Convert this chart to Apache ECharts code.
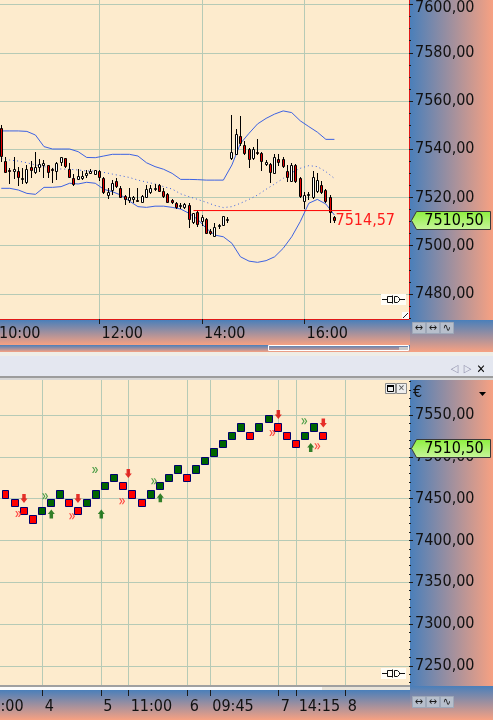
<!DOCTYPE html>
<html>
<head>
<meta charset="utf-8">
<title>Kerzen und Renko</title>
<script src="https://cdn.jsdelivr.net/npm/echarts@6.0.0/dist/echarts.min.js"></script>
<style>
  html, body { margin: 0; padding: 0; background: #fdebcd; }
  #chart { width: 493px; height: 720px; }
</style>
</head>
<body>
<div id="chart"></div>
<script>
// ---- oberes Fenster: 5-Minuten-Kerzen ----
var candleTime = ['10:05','10:10','10:15','10:20','10:25','10:30','10:35','10:40','10:45','10:50','10:55',
  '11:00','11:05','11:10','11:15','11:20','11:25','11:30','11:35','11:40','11:45','11:50','11:55',
  '12:00','12:05','12:10','12:15','12:20','12:25','12:30','12:35','12:40','12:45','12:50','12:55',
  '13:00','13:05','13:10','13:15','13:20','13:25','13:30','13:35','13:40','13:45','13:50','13:55',
  '14:00','14:05','14:10','14:15','14:20','14:25','14:30','14:35','14:40','14:45','14:50','14:55',
  '15:00','15:05','15:10','15:15','15:20','15:25','15:30','15:35','15:40','15:45','15:50','15:55',
  '16:00','16:05','16:10','16:15','16:20','16:25','16:30','16:35'];
var candleOpen = [7549.0,7535.3,7531.3,7531.1,7531.0,7527.9,7526.5,7532.8,7530.7,7532.8,
  7533.5,7533.3,7531.7,7531.1,7534.6,7536.2,7531.8,7527.9,7527.8,7528.2,
  7529.3,7530.3,7529.9,7531.1,7527.9,7521.1,7523.1,7526.8,7523.8,7520.7,
  7518.9,7519.5,7519.0,7518.2,7520.3,7522.1,7523.4,7525.2,7522.8,7521.3,
  7518.9,7517.8,7516.3,7515.9,7516.9,7510.0,7514.1,7510.4,7510.9,7506.2,
  7504.0,7508.2,7508.6,7510.9,7536.2,7538.0,7545.6,7541.7,7539.9,7536.2,
  7538.7,7538.6,7533.9,7533.7,7530.0,7535.8,7535.8,7531.1,7527.0,7533.5,
  7527.9,7518.5,7520.9,7520.0,7522.8,7525.2,7523.1,7520.3,7511.8];
var candleHigh = [7550.0,7536.6,7532.1,7536.6,7532.8,7532.1,7533.5,7535.1,7538.7,7535.8,
  7535.5,7533.5,7532.1,7534.8,7536.9,7536.5,7534.1,7529.7,7531.8,7531.1,
  7531.4,7531.7,7531.6,7531.4,7528.6,7523.8,7527.2,7527.9,7524.7,7521.0,
  7523.8,7520.6,7523.8,7521.0,7525.2,7525.2,7525.4,7525.4,7523.8,7521.7,
  7519.2,7518.2,7517.8,7517.6,7517.6,7513.7,7514.8,7512.7,7511.3,7506.8,
  7509.5,7509.0,7512.3,7512.0,7554.3,7548.2,7553.8,7543.5,7540.4,7540.8,
  7544.1,7539.0,7535.5,7534.4,7538.0,7538.0,7536.9,7533.5,7534.1,7533.9,
  7528.6,7522.4,7522.4,7531.0,7530.0,7526.8,7523.4,7521.0,7512.5];
var candleLow = [7535.0,7530.4,7525.9,7527.9,7525.2,7526.1,7526.1,7528.6,7530.3,7531.1,
  7528.3,7528.6,7526.5,7527.6,7533.5,7532.8,7528.6,7525.2,7527.6,7527.8,
  7528.6,7530.0,7529.6,7527.2,7522.0,7519.9,7521.3,7524.5,7520.0,7517.1,
  7518.2,7518.0,7518.5,7518.2,7520.3,7521.7,7523.1,7522.8,7520.0,7518.0,
  7517.6,7515.5,7515.5,7515.5,7507.9,7509.3,7508.2,7508.6,7505.1,7504.8,
  7504.0,7507.2,7508.6,7510.0,7535.8,7538.0,7541.7,7538.0,7532.8,7535.8,
  7538.0,7531.4,7533.5,7526.5,7530.0,7533.5,7532.8,7527.0,7527.0,7526.5,
  7520.3,7515.5,7519.2,7519.9,7522.4,7522.0,7518.2,7510.0,7510.0];
var candleClose = [7537.0,7530.7,7531.0,7531.7,7528.6,7528.2,7531.7,7531.4,7532.8,7533.7,
  7534.4,7530.7,7531.4,7534.4,7536.6,7533.0,7528.6,7525.6,7528.9,7528.9,
  7530.3,7531.1,7531.4,7528.3,7522.4,7522.1,7525.9,7524.9,7520.3,7519.2,
  7520.0,7520.0,7518.9,7520.7,7523.4,7524.1,7524.1,7522.8,7520.6,7518.0,
  7518.0,7515.9,7517.0,7517.3,7510.9,7513.4,7509.0,7512.0,7505.4,7505.1,
  7507.9,7508.6,7512.3,7511.2,7538.7,7546.2,7542.4,7538.6,7535.8,7539.9,
  7538.3,7535.1,7534.8,7530.7,7536.6,7534.8,7533.0,7528.3,7533.5,7526.8,
  7520.6,7521.0,7521.4,7528.3,7527.2,7522.4,7518.7,7514.1,7510.5];

var bandTime = ['10:05','10:15','10:25','10:35','10:45','10:55','11:05','11:15','11:25','11:35',
  '11:45','11:55','12:05','12:15','12:25','12:35','12:45','12:55','13:05','13:15',
  '13:25','13:35','13:45','13:55','14:05','14:15','14:25','14:35','14:45','14:55',
  '15:05','15:15','15:25','15:35','15:45','15:55','16:05','16:15','16:25','16:35'];
var bandUpper = [7547.6,7547.6,7547.6,7547.4,7545.9,7541.1,7540.1,7540.1,7540.1,7539.0,
  7536.6,7536.5,7537.2,7537.9,7537.9,7537.9,7537.2,7534.4,7532.8,7531.7,
  7530.0,7527.5,7527.5,7527.4,7527.2,7527.2,7527.2,7533.5,7542.4,7546.6,
  7550.5,7552.8,7554.6,7555.9,7555.2,7551.8,7549.4,7547.1,7544.1,7544.1];
var bandMiddle = [7536.2,7535.5,7535.1,7534.4,7533.5,7532.8,7532.1,7531.8,7531.7,7531.4,
  7531.0,7531.0,7530.4,7529.7,7529.0,7528.3,7527.2,7526.4,7525.6,7524.5,
  7523.5,7521.5,7520.3,7519.2,7518.0,7516.7,7515.8,7516.2,7517.6,7519.2,
  7521.0,7523.4,7525.6,7527.9,7530.3,7532.1,7533.2,7532.8,7530.7,7527.9];
var bandLower = [7523.8,7523.8,7523.1,7521.7,7521.3,7524.2,7524.2,7524.5,7525.9,7525.6,
  7526.3,7525.9,7523.4,7522.4,7521.0,7518.5,7516.2,7515.9,7516.4,7516.4,
  7515.9,7515.2,7513.4,7510.9,7507.2,7504.4,7503.7,7501.0,7495.4,7493.6,
  7493.1,7493.8,7495.4,7498.9,7503.7,7510.0,7517.6,7519.2,7517.3,7512.7];

var levelPrice = 7514.57;
var levelFrom = '13:50';
var levelTo = '16:55';
var lastPrice = 7510.50;

var topTimeTicks = ['10:00', '12:00', '14:00', '16:00'];
var topPriceTicks = [7480, 7500, 7520, 7540, 7560, 7580, 7600];

// ---- unteres Fenster: Renko (Boxgroesse 10) ----
var renkoBox = 10;
var renkoLow = [7460,7450,7440,7430,7420,7430,7440,7450,7440,7430,7440,7450,7460,7470,7460,7450,7440,
  7450,7460,7470,7480,7470,7480,7490,7500,7510,7520,7530,7520,7530,7540,7530,7520,7510,7520,7530,7520];
var renkoUp = [0,0,0,0,0,1,1,1,0,0,1,1,1,1,0,0,0,1,1,1,1,0,1,1,1,1,1,1,0,1,1,0,0,0,1,1,0];
var renkoTickPos = [-1.8, 5.1, 11.56, 14.58, 21.09, 23.58, 31.12, 33.1, 38.51];
var renkoTickText = ['10:00', '4', '5', '11:00', '6', '09:45', '7', '14:15', '8'];
var bottomPriceTicks = [7250, 7300, 7350, 7400, 7450, 7500, 7550];

var sellArrows = [[3.04, 7450.2], [8.99, 7450.2], [14.54, 7480.1], [31.08, 7550.6], [36.04, 7540.4]];
var buyArrows = [[6.05, 7431.7], [11.56, 7431.7], [18.07, 7451.2], [34.65, 7511.2]];
var buyMarks = [[5.36, 7452.8], [10.87, 7484.3], [17.37, 7470.8], [33.94, 7542.5]];
var sellMarks = [[2.41, 7431.7], [8.33, 7428.9], [13.85, 7446.9], [30.42, 7528.5], [35.38, 7512.6]];

var font = '"DejaVu Sans Condensed", "DejaVu Sans", sans-serif';
var gridColor = '#b6cab6';
var bandColor = '#3d62e2';
var blue = '#4a7fba', salmon = '#f7a182';

function toMin(t) { var p = t.split(':'); return (+p[0] - 10) * 60 + (+p[1]); }
function fmtPrice(v) { return v.toFixed(2).replace('.', ','); }
function fmtTime(m) {
  var h = 10 + Math.floor(m / 60), mm = Math.round(m % 60);
  return (h < 10 ? '0' : '') + h + ':' + (mm < 10 ? '0' : '') + mm;
}
// oberste Beschriftung rutscht etwas nach unten, damit sie nicht abgeschnitten wird
function fmtTopPrice(v) {
  return v === topPriceTicks[topPriceTicks.length - 1] ? '{edge|' + fmtPrice(v) + '}' : fmtPrice(v);
}
function renkoLabel(v) {
  for (var i = 0; i < renkoTickPos.length; i++) {
    if (Math.abs(renkoTickPos[i] - v) < 1e-6) return renkoTickText[i];
  }
  return '';
}
function grad(horizontal) {
  return { type: 'linear', x: 0, y: 0, x2: horizontal ? 1 : 0, y2: horizontal ? 0 : 1,
    colorStops: [{ offset: 0, color: blue }, { offset: 1, color: salmon }] };
}

function renderCandle(params, api) {
  var x = api.value(0), o = api.value(1), c = api.value(2), l = api.value(3), h = api.value(4);
  var pO = api.coord([x, o]), pC = api.coord([x, c]), pL = api.coord([x, l]), pH = api.coord([x, h]);
  var w = Math.floor(pO[0]) + 0.5;
  var top = Math.round(Math.min(pO[1], pC[1])) + 0.5;
  var bot = Math.round(Math.max(pO[1], pC[1])) + 0.5;
  if (bot - top < 1) bot = top + 1;
  return { type: 'group', children: [
    { type: 'line', shape: { x1: w, y1: Math.round(pH[1]), x2: w, y2: Math.round(pL[1]) + 1 },
      style: { stroke: '#000', lineWidth: 1 } },
    { type: 'rect', shape: { x: w - 1, y: top, width: 2, height: bot - top },
      style: { fill: c >= o ? '#ffffff' : '#e40000', stroke: '#000', lineWidth: 1 } }
  ] };
}

function renderTag(params, api) {
  var cs = params.coordSys;
  var y = Math.round(api.coord([api.value(0), api.value(1)])[1]);
  var x0 = cs.x + cs.width;
  return { type: 'group', children: [
    { type: 'polygon', shape: { points: [[x0 + 2.5, y + 0.5], [x0 + 7.5, y - 8.5], [x0 + 81.5, y - 8.5],
      [x0 + 81.5, y + 9.5], [x0 + 7.5, y + 9.5]] },
      style: { fill: { type: 'linear', x: 0, y: 0, x2: 0, y2: 1,
        colorStops: [{ offset: 0, color: '#8cf03c' }, { offset: 1, color: '#c9f59e' }] },
        stroke: '#3a3a3a', lineWidth: 1 } },
    { type: 'text', style: { text: fmtPrice(api.value(1)), x: x0 + 45, y: y + 1,
      align: 'center', textAlign: 'center', verticalAlign: 'middle', textVerticalAlign: 'middle',
      fill: '#000', fontSize: 16, fontFamily: font } }
  ] };
}

function renderBox(params, api) {
  var i = api.value(0), low = api.value(1), up = api.value(2);
  var a = api.coord([i - 0.44, low + renkoBox]);
  var b = api.coord([i + 0.44, low]);
  var x1 = Math.round(a[0]) + 0.5, y1 = Math.round(a[1]) + 0.5;
  var x2 = Math.round(b[0]) - 0.5, y2 = Math.round(b[1]) - 0.5;
  return { type: 'rect', shape: { x: x1, y: y1, width: x2 - x1, height: y2 - y1 },
    style: { fill: up ? '#006400' : '#ff0000', stroke: '#00006e', lineWidth: 1 } };
}

// Flaechen, Leisten und kleine Symbole rund um die Fenster
function box(x, y, w, h, fill, z) {
  return { type: 'rect', silent: true, z: z || -10, shape: { x: x, y: y, width: w, height: h }, style: { fill: fill } };
}
function label(text, x, y, size, color, align) {
  return { type: 'text', silent: true, z: 101, style: { text: text, x: x, y: y, fontSize: size, fontFamily: font,
    fill: color, align: align || 'center', textAlign: align || 'center', verticalAlign: 'middle', textVerticalAlign: 'middle' } };
}
function buttons(y) {
  var out = [], glyphs = ['\u2194', '\u2194', '\u223f'];
  for (var i = 0; i < 3; i++) {
    var x = 412 + i * 14;
    out.push({ type: 'rect', silent: true, z: 100, shape: { x: x + 0.5, y: y + 0.5, width: 13, height: 11 },
      style: { fill: '#b7bfcc', stroke: '#9ea8b8', lineWidth: 1 } });
    out.push(label(glyphs[i], x + 7, y + 6.5, 11, '#1a1a1a'));
  }
  return out;
}
function plug(x, y) {
  var s = { stroke: '#111', lineWidth: 1, fill: null };
  function el(type, shape) { return { type: type, silent: true, z: 101, shape: shape, style: s }; }
  return [
    box(x, y, 25, 11, '#fffdf6', 100),
    el('line', { x1: x + 1, y1: y + 5.5, x2: x + 6, y2: y + 5.5 }),
    el('polyline', { points: [[x + 11.5, y + 2.5], [x + 6.5, y + 2.5], [x + 6.5, y + 8.5], [x + 11.5, y + 8.5]] }),
    el('line', { x1: x + 11.5, y1: y + 1.5, x2: x + 11.5, y2: y + 9.5 }),
    el('polyline', { points: [[x + 13.5, y + 2.5], [x + 16.5, y + 2.5], [x + 18.5, y + 4.5], [x + 18.5, y + 6.5],
      [x + 16.5, y + 8.5], [x + 13.5, y + 8.5], [x + 13.5, y + 2.5]] }),
    el('line', { x1: x + 19, y1: y + 5.5, x2: x + 24, y2: y + 5.5 })
  ];
}

var graphics = [
  box(410, 0, 83, 320, grad(true)),
  box(0, 320, 410, 25, grad(false)),
  box(0, 345, 410, 7, grad(false)),
  box(410, 320, 83, 32, grad(false)),
  box(0, 352, 493, 4, '#efede6'),
  box(0, 356, 493, 20, '#e4e7f0'),
  box(0, 376, 493, 2, '#9c9c9c'),
  box(0, 378, 493, 2, '#d6d6d6'),
  box(410, 380, 83, 306, grad(true)),
  box(0, 690, 410, 30, grad(false)),
  box(410, 686, 83, 34, grad(false)),
  // Rollbalken
  { type: 'rect', silent: true, z: 100, shape: { x: 268.5, y: 345.5, width: 140, height: 5 },
    style: { fill: null, stroke: '#ffffff', lineWidth: 1 } },
  box(399, 347, 9, 3, '#cacaca', 100),
  box(0, 685, 410, 2, '#a0a0a0', 100),
  box(0, 687, 322, 3, '#fbfbfb', 100),
  box(322, 687, 88, 3, '#e9e4da', 100),
  // Fenster-Steuerung
  label('\u25c1', 454.5, 369.5, 11, '#8a8aa6'),
  label('\u25b7', 467.5, 369.5, 11, '#8a8aa6'),
  label('\u2715', 481, 370, 12, '#000'),
  { type: 'rect', silent: true, z: 100, shape: { x: 385.5, y: 383.5, width: 10, height: 10 },
    style: { fill: '#eeeeee', stroke: '#8a8a8a', lineWidth: 1 } },
  { type: 'rect', silent: true, z: 101, shape: { x: 387.5, y: 386.5, width: 6, height: 5 },
    style: { fill: null, stroke: '#000', lineWidth: 1 } },
  box(387, 385, 7, 2, '#000', 101),
  { type: 'rect', silent: true, z: 100, shape: { x: 396.5, y: 383.5, width: 10, height: 10 },
    style: { fill: '#eeeeee', stroke: '#8a8a8a', lineWidth: 1 } },
  label('\u2715', 401.5, 388.5, 9, '#555'),
  label('\u20ac', 413, 393, 16, '#111', 'left'),
  { type: 'polygon', silent: true, z: 101, shape: { points: [[479, 392], [486, 392], [482.5, 396]] }, style: { fill: '#000' } },
  // Groessen-Griff
  box(402, 312, 7, 7, '#fbfbfb', 100),
  { type: 'line', silent: true, z: 101, shape: { x1: 403, y1: 318, x2: 408, y2: 313 }, style: { stroke: '#222', lineWidth: 1 } }
].concat(buttons(322), buttons(696), plug(381, 294), plug(381, 668));

var axisText = { color: '#111', fontFamily: font, fontSize: 16 };
var tickStyle = { color: '#1a1a1a', width: 1 };

var option = {
  animation: false,
  backgroundColor: '#fdebcd',
  graphic: graphics,
  grid: [
    { left: -3, top: 0, width: 412, height: 319, outerBoundsMode: 'none' },
    { left: -30, top: 380, width: 439, height: 310, outerBoundsMode: 'none' }
  ],
  xAxis: [
    {
      gridIndex: 0, type: 'value', min: 0, max: 482.3,
      axisLine: { show: true, onZero: false, lineStyle: { color: '#e01818', width: 1 } },
      axisTick: { show: true, customValues: topTimeTicks.map(toMin), length: 5, lineStyle: tickStyle },
      axisLabel: Object.assign({ customValues: topTimeTicks.map(toMin), formatter: fmtTime, align: 'left',
        padding: [0, 0, 0, 2], margin: 7 }, axisText),
      splitLine: { show: true, lineStyle: { color: gridColor, width: 1 } }
    },
    {
      gridIndex: 1, type: 'value', min: -2.914, max: 45.487,
      axisLine: { show: false, onZero: false },
      axisTick: { show: true, customValues: renkoTickPos, length: 6, lineStyle: tickStyle },
      axisLabel: Object.assign({ customValues: renkoTickPos, formatter: renkoLabel, align: 'left',
        padding: [0, 0, 0, 2], margin: 9 }, axisText),
      splitLine: { show: true, lineStyle: { color: gridColor, width: 1 } }
    }
  ],
  yAxis: [
    {
      gridIndex: 0, type: 'value', position: 'right', min: 7469.6, max: 7601.9, splitNumber: 7,
      axisLine: { show: true, onZero: false, lineStyle: { color: '#e01818', width: 1 } },
      axisTick: { show: true, customValues: topPriceTicks, length: 4, lineStyle: tickStyle },
      minorTick: { show: true, splitNumber: 4, length: 2, lineStyle: tickStyle },
      axisLabel: Object.assign({ customValues: topPriceTicks, formatter: fmtTopPrice, margin: 6,
        rich: { edge: { fontFamily: font, fontSize: 16, color: '#111', padding: [6, 0, 0, 0] } } }, axisText),
      splitLine: { show: true, lineStyle: { color: gridColor, width: 1 } }
    },
    {
      gridIndex: 1, type: 'value', position: 'right', min: 7221.3, max: 7591.8, splitNumber: 7,
      axisLine: { show: false, onZero: false },
      axisTick: { show: true, customValues: bottomPriceTicks, length: 4, lineStyle: tickStyle },
      minorTick: { show: true, splitNumber: 5, length: 2, lineStyle: tickStyle },
      axisLabel: Object.assign({ customValues: bottomPriceTicks, formatter: fmtPrice, margin: 6 }, axisText),
      splitLine: { show: true, lineStyle: { color: gridColor, width: 1 } }
    }
  ],
  series: [
    {
      name: 'BB oben', type: 'line', xAxisIndex: 0, yAxisIndex: 0, silent: true, z: 2,
      symbol: 'none', lineStyle: { color: bandColor, width: 1 },
      data: bandTime.map(function (t, i) { return [toMin(t), bandUpper[i]]; })
    },
    {
      name: 'BB Mitte', type: 'line', xAxisIndex: 0, yAxisIndex: 0, silent: true, z: 2,
      symbol: 'none', lineStyle: { color: bandColor, width: 1, type: [1, 3] },
      data: bandTime.map(function (t, i) { return [toMin(t), bandMiddle[i]]; })
    },
    {
      name: 'BB unten', type: 'line', xAxisIndex: 0, yAxisIndex: 0, silent: true, z: 2,
      symbol: 'none', lineStyle: { color: bandColor, width: 1 },
      data: bandTime.map(function (t, i) { return [toMin(t), bandLower[i]]; })
    },
    {
      name: 'Kerzen', type: 'custom', xAxisIndex: 0, yAxisIndex: 0, z: 3, clip: true,
      renderItem: renderCandle, encode: { x: 0, y: [1, 2, 3, 4] },
      data: candleTime.map(function (t, i) {
        return [toMin(t), candleOpen[i], candleClose[i], candleLow[i], candleHigh[i]];
      })
    },
    {
      name: 'Linie', type: 'line', xAxisIndex: 0, yAxisIndex: 0, z: 4, silent: true,
      symbol: 'none', color: '#ff0000', lineStyle: { color: '#ff0000', width: 1, opacity: 1 },
      data: [[toMin(levelFrom), levelPrice], [toMin(levelTo), levelPrice]],
      endLabel: { show: true, formatter: fmtPrice(levelPrice), distance: 0, offset: [-16, 10],
        color: '#ff1a1a', fontSize: 16, fontFamily: font }
    },
    {
      name: 'Kurs oben', type: 'custom', xAxisIndex: 0, yAxisIndex: 0, z: 10, clip: false,
      renderItem: renderTag, encode: { x: 0, y: 1 },
      data: [[toMin(candleTime[candleTime.length - 1]), lastPrice]]
    },
    {
      name: 'Renko', type: 'custom', xAxisIndex: 1, yAxisIndex: 1, z: 3, clip: false,
      renderItem: renderBox, encode: { x: 0, y: 1 },
      data: renkoLow.map(function (v, i) { return [i, v, renkoUp[i]]; })
    },
    {
      name: 'Verkauf', type: 'scatter', xAxisIndex: 1, yAxisIndex: 1, z: 4, silent: true,
      symbol: 'path://M2,0 L6,0 L6,5 L8,5 L4,10 L0,5 L2,5 Z', symbolSize: [7, 9],
      itemStyle: { color: '#e00000' }, data: sellArrows
    },
    {
      name: 'Kauf', type: 'scatter', xAxisIndex: 1, yAxisIndex: 1, z: 4, silent: true,
      symbol: 'path://M4,0 L8,5 L6,5 L6,10 L2,10 L2,5 L0,5 Z', symbolSize: [7, 9],
      itemStyle: { color: '#006400' }, data: buyArrows
    },
    {
      name: 'Signal Kauf', type: 'scatter', xAxisIndex: 1, yAxisIndex: 1, z: 4, silent: true,
      symbol: 'path://M0,0 L2,0 L5,3 L2,6 L0,6 L3,3 Z M4,0 L6,0 L9,3 L6,6 L4,6 L7,3 Z', symbolSize: [6, 6],
      itemStyle: { color: '#2f8f2f', opacity: 0.85 }, data: buyMarks
    },
    {
      name: 'Signal Verkauf', type: 'scatter', xAxisIndex: 1, yAxisIndex: 1, z: 4, silent: true,
      symbol: 'path://M0,0 L2,0 L5,3 L2,6 L0,6 L3,3 Z M4,0 L6,0 L9,3 L6,6 L4,6 L7,3 Z', symbolSize: [6, 6],
      itemStyle: { color: '#ff2a2a', opacity: 0.85 }, data: sellMarks
    },
    {
      name: 'Kurs unten', type: 'custom', xAxisIndex: 1, yAxisIndex: 1, z: 10, clip: false,
      renderItem: renderTag, encode: { x: 0, y: 1 },
      data: [[renkoLow.length - 1, lastPrice]]
    }
  ]
};

var myChart = echarts.init(document.getElementById('chart'));
myChart.setOption(option);
</script>
</body>
</html>
